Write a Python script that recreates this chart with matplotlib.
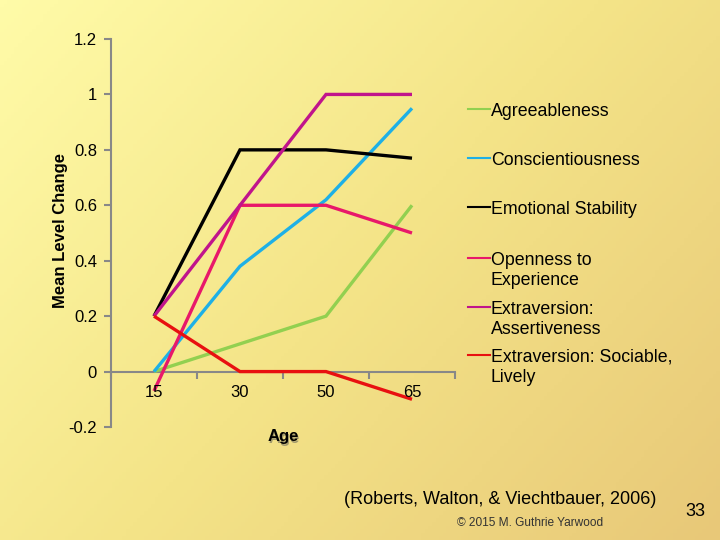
import numpy as np
import matplotlib
matplotlib.use("Agg")
import matplotlib.pyplot as plt
from matplotlib.lines import Line2D
from matplotlib.colors import LinearSegmentedColormap

plt.rcParams['font.family'] = ['Liberation Sans', 'DejaVu Sans']

ages = ["15", "30", "50", "65"]
agreeableness = [0.0, 0.1, 0.2, 0.6]
conscientiousness = [0.0, 0.38, 0.62, 0.95]
emotional_stability = [0.2, 0.8, 0.8, 0.77]
openness = [-0.07, 0.6, 0.6, 0.5]
extra_assert = [0.2, 0.6, 1.0, 1.0]
extra_social = [0.2, 0.0, 0.0, -0.1]

names = ["Agreeableness", "Conscientiousness", "Emotional Stability",
         "Openness to\nExperience", "Extraversion:\nAssertiveness",
         "Extraversion: Sociable,\nLively"]
series = [agreeableness, conscientiousness, emotional_stability,
          openness, extra_assert, extra_social]
colors = ["#92D050", "#1EB0E6", "#000000", "#E8186A", "#C0148C", "#E81010"]
yticks = [-0.2, 0, 0.2, 0.4, 0.6, 0.8, 1, 1.2]
ytick_labels = ["-0.2", "0", "0.2", "0.4", "0.6", "0.8", "1", "1.2"]

fig = plt.figure(figsize=(7.2, 5.4), dpi=100)

# background gradient
bg = fig.add_axes([0, 0, 1, 1], zorder=-10)
xx, yy = np.meshgrid(np.linspace(0, 1, 200), np.linspace(0, 1, 150))
t = (xx * 0.6 + yy * 0.4)
cmap = LinearSegmentedColormap.from_list("bg", ["#FFFBA8", "#F4E488", "#E8C878"])
bg.imshow(t, cmap=cmap, aspect='auto', extent=[0, 1, 0, 1], origin='upper', vmin=0, vmax=1)
bg.axis('off')

ax = fig.add_axes([111/720, 1-427/540, (455-111)/720, (427-39)/540])
ax.patch.set_alpha(0)
x = np.arange(len(ages))
for s, c in zip(series, colors):
    ax.plot(x, s, color=c, lw=2.4, solid_capstyle='butt', solid_joinstyle='miter', zorder=3)

ax.set_xlim(-0.5, 3.5)
ax.set_ylim(-0.2, 1.2)
ax.set_yticks(yticks)
ax.set_yticklabels(ytick_labels, fontsize=12)
ax.set_xticks([-0.5, 0.5, 1.5, 2.5, 3.5])
ax.set_xticklabels([])
for sp in ['top', 'right']:
    ax.spines[sp].set_visible(False)
ax.spines['bottom'].set_position(('data', 0))
for sp in ['left', 'bottom']:
    ax.spines[sp].set_color('#888888')
    ax.spines[sp].set_linewidth(1.5)
ax.tick_params(axis='y', direction='out', length=5, color='#888888', width=1.5, pad=5)
ax.tick_params(axis='x', direction='out', length=5, color='#888888', width=1.5)
for i, lab in enumerate(ages):
    ax.annotate(lab, xy=(i, 0), xytext=(0, -10), textcoords='offset points',
                ha='center', va='top', fontsize=12)

fig.text(60/720, 1-230/540, "Mean Level Change", rotation=90, ha='center', va='center',
         fontsize=12, fontweight='bold')
fig.text(284/720, 1-438/540, "Age", ha='center', va='center', fontsize=12, fontweight='bold',
         color='#555555', alpha=0.5)
fig.text(283/720, 1-437/540, "Age", ha='center', va='center', fontsize=12, fontweight='bold')

# legend
ys = [109, 158, 207, 258, 307, 355]
for nm, c, yv in zip(names, colors, ys):
    yf = 1 - yv/540
    fig.add_artist(Line2D([468/720, 490/720], [yf, yf], color=c, lw=1.5))
    fig.text(491/720, yf + 6/540, nm, ha='left', va='top', fontsize=12.8, linespacing=1.2)

fig.text(500/720, 1-499/540, "(Roberts, Walton, & Viechtbauer, 2006)", ha='center', va='center',
         fontsize=13)
fig.text(530/720, 1-523/540, "\u00a9 2015 M. Guthrie Yarwood", ha='center', va='center',
         fontsize=8.6, color='#333333')
fig.text(695/720, 1-512/540, "33", ha='center', va='center', fontsize=13)

fig.savefig("out.png", dpi=100)
